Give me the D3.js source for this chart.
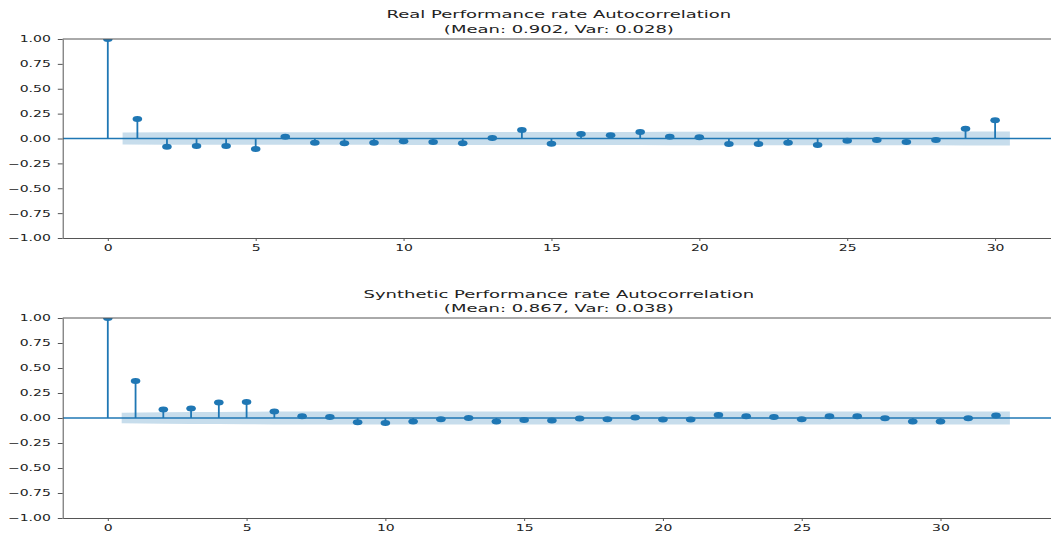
<!DOCTYPE html>
<html>
<head>
<meta charset="utf-8">
<script src="https://cdn.jsdelivr.net/npm/d3@7"></script>
<style>
  body { margin: 0; background: #fff; }
  svg { display: block; }
</style>
</head>
<body>
<div id="chart"></div>
<script>
// autocorrelation values, index = lag
const realAcf = [1.0, 0.196, -0.082, -0.075, -0.075, -0.105, 0.018, -0.042, -0.048, -0.042,
    -0.028, -0.035, -0.048, 0.005, 0.085, -0.052, 0.045, 0.032, 0.065, 0.018,
    0.012, -0.055, -0.055, -0.042, -0.065, -0.022, -0.015, -0.035, -0.015, 0.098, 0.183];
const synthAcf = [1.0, 0.37, 0.084, 0.094, 0.154, 0.16, 0.064, 0.017, 0.01, -0.043,
    -0.05, -0.036, -0.013, 0.0, -0.036, -0.02, -0.026, -0.006, -0.013, 0.004,
    -0.016, -0.016, 0.03, 0.017, 0.01, -0.013, 0.017, 0.017, -0.003, -0.036,
    -0.036, -0.003, 0.024];

// confidence band half width, lags 1..N
const realBand = [0.061, 0.062, 0.063, 0.063, 0.063, 0.064, 0.064, 0.064, 0.064, 0.065,
    0.065, 0.065, 0.065, 0.065, 0.066, 0.066, 0.066, 0.066, 0.067, 0.067,
    0.067, 0.067, 0.068, 0.068, 0.068, 0.069, 0.069, 0.069, 0.07, 0.07];
const synthBand = [0.053, 0.058, 0.06, 0.061, 0.062, 0.064, 0.064, 0.064, 0.064, 0.064,
    0.065, 0.065, 0.065, 0.065, 0.065, 0.065, 0.065, 0.065, 0.065, 0.065,
    0.065, 0.065, 0.066, 0.066, 0.066, 0.066, 0.066, 0.066, 0.066, 0.066,
    0.066, 0.066];

const titles = ["Real Performance rate Autocorrelation", "Synthetic Performance rate Autocorrelation"];
const subtitles = ["(Mean: 0.902, Var: 0.028)", "(Mean: 0.867, Var: 0.038)"];
const yTickValues = [-1, -0.75, -0.5, -0.25, 0, 0.25, 0.5, 0.75, 1];
const xTickValues = [0, 5, 10, 15, 20, 25, 30];

const W = 1051, H = 535;
const SY = 0.6;   // picture is squashed vertically
const C0 = "#1f77b4";
const left = 62.7, right = 1055;

const svg = d3.select("#chart").append("svg")
    .attr("width", W)
    .attr("height", H)
    .style("font-family", "'DejaVu Sans', sans-serif");

const panels = [
    { title: titles[0], sub: subtitles[0], acf: realAcf, band: realBand, top: 39, bottom: 238, titleY: 18.3 },
    { title: titles[1], sub: subtitles[1], acf: synthAcf, band: synthBand, top: 318, bottom: 518, titleY: 297.5 }
];

panels.forEach(function (p, i) {
    const n = p.acf.length - 1;
    const maxX = n + 0.5;
    const pad = 0.05 * maxX;
    const x = d3.scaleLinear().domain([-pad, maxX + pad]).range([left, right]);
    const y = d3.scaleLinear().domain([-1, 1]).range([p.bottom, p.top]);

    const g = svg.append("g");

    g.append("clipPath").attr("id", "clip" + i)
        .append("rect")
        .attr("x", left).attr("y", p.top)
        .attr("width", right - left).attr("height", p.bottom - p.top);

    const plot = g.append("g").attr("clip-path", "url(#clip" + i + ")");

    // stems
    plot.selectAll(".stem")
        .data(p.acf)
        .enter().append("line")
        .attr("x1", (d, k) => x(k))
        .attr("x2", (d, k) => x(k))
        .attr("y1", y(0))
        .attr("y2", d => y(d))
        .attr("stroke", C0)
        .attr("stroke-width", 1.8);

    // zero line
    plot.append("line")
        .attr("x1", left).attr("x2", right)
        .attr("y1", y(0)).attr("y2", y(0))
        .attr("stroke", C0)
        .attr("stroke-width", 1.3);

    // markers
    plot.selectAll(".dot")
        .data(p.acf)
        .enter().append("ellipse")
        .attr("cx", (d, k) => x(k))
        .attr("cy", d => y(d))
        .attr("rx", 4.8)
        .attr("ry", 3)
        .attr("fill", C0);

    // confidence band
    const bandPts = p.band.map(function (b, k) {
        let lag = k + 1;
        if (k === 0) lag -= 0.5;
        if (k === p.band.length - 1) lag += 0.5;
        return { lag: lag, half: b };
    });
    plot.append("path")
        .datum(bandPts)
        .attr("fill", C0)
        .attr("fill-opacity", 0.25)
        .attr("d", d3.area()
            .x(d => x(d.lag))
            .y0(d => y(-d.half))
            .y1(d => y(d.half)));

    // axes
    const yAxis = g.append("g")
        .attr("transform", "translate(" + left + ",0)")
        .call(d3.axisLeft(y).tickValues(yTickValues)
            .tickFormat(d3.format(".2f"))
            .tickSize(4.9).tickPadding(7).tickSizeOuter(0));
    yAxis.selectAll(".tick text")
        .attr("dy", "0.35em")
        .attr("transform", "scale(1," + SY + ")");

    const xAxis = g.append("g")
        .attr("transform", "translate(0," + p.bottom + ")")
        .call(d3.axisBottom(x).tickValues(xTickValues)
            .tickSize(3).tickSizeOuter(0));
    xAxis.selectAll(".tick text")
        .attr("y", 0)
        .attr("dy", "0.35em")
        .attr("transform", "translate(0,10.5) scale(1," + SY + ")");

    [yAxis, xAxis].forEach(function (a) {
        a.attr("font-size", 14).attr("font-family", "'DejaVu Sans', sans-serif");
        a.selectAll(".tick text").attr("fill", "#222");
        a.selectAll("line, path").attr("stroke", "#555").attr("stroke-width", 1);
    });

    // top spine
    g.append("line")
        .attr("x1", left).attr("x2", right)
        .attr("y1", p.top).attr("y2", p.top)
        .attr("stroke", "#555").attr("stroke-width", 1);

    // title
    const cx = (left + right) / 2;
    [p.title, p.sub].forEach(function (t, k) {
        g.append("text")
            .attr("transform", "translate(" + cx + "," + (p.titleY + k * 14.4) + ") scale(1," + SY + ")")
            .attr("text-anchor", "middle")
            .attr("font-size", 18)
            .attr("fill", "#222")
            .text(t);
    });
});
</script>
</body>
</html>
